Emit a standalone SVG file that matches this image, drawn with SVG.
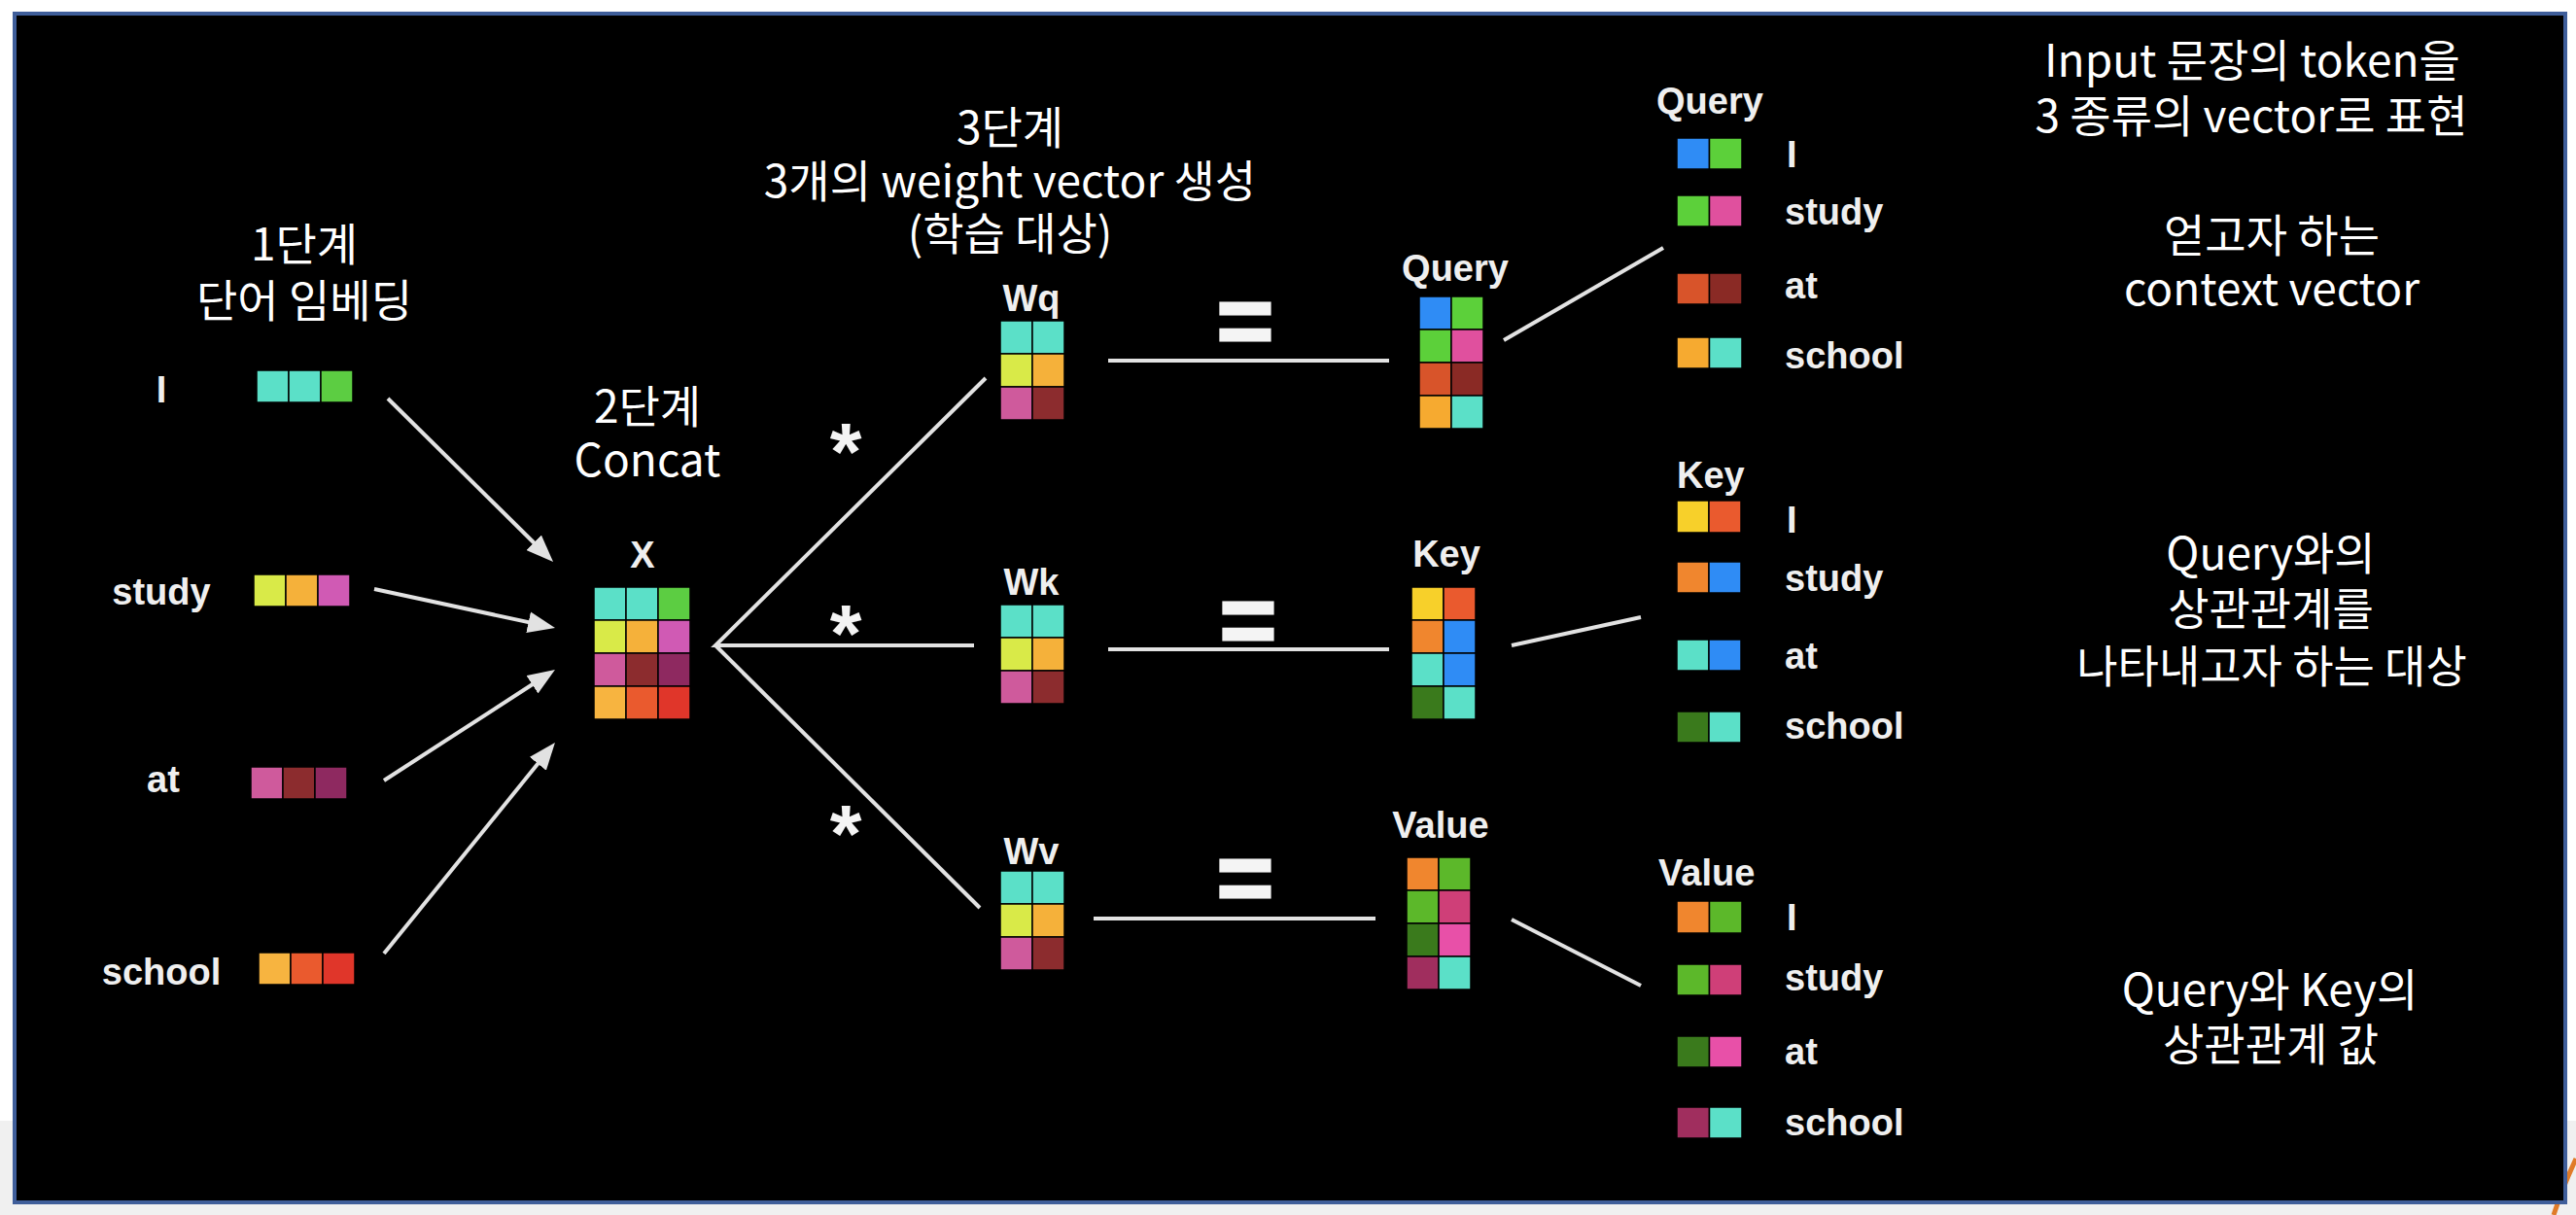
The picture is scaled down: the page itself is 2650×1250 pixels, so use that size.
<svg xmlns="http://www.w3.org/2000/svg" width="2650" height="1250" viewBox="0 0 2650 1250">
<defs>
<style>
.lbl{font-family:"Liberation Sans",Arial,sans-serif;font-weight:bold;font-size:38px;fill:#efefef}
.mid{text-anchor:middle}
.ko{font-family:"Noto Sans CJK KR","Noto Sans",sans-serif;font-size:46px;fill:#ffffff;text-anchor:middle}
.op{font-family:"Liberation Sans",Arial,sans-serif;font-weight:bold;fill:#f4f4f4;text-anchor:middle}
.eq{stroke:#f4f4f4;stroke-width:3}
.ln{stroke:#e2e2e2;stroke-width:4;fill:none;stroke-linecap:butt}
.cell rect{stroke:#000;stroke-width:1.5}
.teal{fill:#5be0c8}.green{fill:#5ccd42}.ylg{fill:#d9ea48}.org{fill:#f5b13a}.pnk{fill:#d05ab4}
.mauve{fill:#cf5a9c}.dred{fill:#8c2c2e}.maroon{fill:#8e2960}.oy{fill:#f7b440}.ored{fill:#ea5a2e}.red{fill:#e0362a}
.blue{fill:#2f8cf5}.qgreen{fill:#5cd03a}.qpink{fill:#e0509e}.qored{fill:#d8542a}.qdred{fill:#8a2a25}.qorg{fill:#f6aa30}
.yel{fill:#f7d02a}.korg{fill:#f0862e}.dgreen{fill:#3a7a1c}.vgreen{fill:#5cb82a}.mag{fill:#cf3f78}.vpink{fill:#e850a8}.vmaroon{fill:#a02e5e}
</style>
<marker id="ah" markerUnits="userSpaceOnUse" markerWidth="28" markerHeight="22" refX="6" refY="11" orient="auto">
<path d="M0,0 L28,11 L0,22 Z" fill="#e2e2e2"/>
</marker>
</defs>

<!-- page background -->
<rect x="0" y="0" width="2650" height="1250" fill="#ffffff"/>
<rect x="0" y="1153" width="2650" height="97" fill="#f0f0f0"/>
<path d="M2650,1192 Q2636,1222 2627,1250" stroke="#e07b28" stroke-width="5" fill="none"/>
<rect x="15" y="14" width="2624" height="1223" fill="#000000" stroke="#3f5e9a" stroke-width="4"/>

<!-- step titles -->
<g id="step1-title">
<text class="ko" x="313" y="268">1단계<tspan x="313" dy="58">단어 임베딩</tspan></text>
</g>
<g id="step2-title">
<text class="ko" x="666" y="435">2단계<tspan x="666" dy="55">Concat</tspan></text>
</g>
<g id="step3-title">
<text class="ko" x="1039" y="148">3단계<tspan x="1039" dy="55">3개의 weight vector 생성</tspan><tspan x="1039" dy="54">(학습 대상)</tspan></text>
</g>

<!-- input word embeddings -->
<g id="emb-I" class="cell">
<text class="lbl mid" x="166" y="414">I</text>
<rect class="teal" x="264" y="381" width="33" height="33"/><rect class="teal" x="297" y="381" width="33" height="33"/><rect class="green" x="330" y="381" width="33" height="33"/>
</g>
<g id="emb-study" class="cell">
<text class="lbl mid" x="166" y="622">study</text>
<rect class="ylg" x="261" y="591" width="33" height="33"/><rect class="org" x="294" y="591" width="33" height="33"/><rect class="pnk" x="327" y="591" width="33" height="33"/>
</g>
<g id="emb-at" class="cell">
<text class="lbl mid" x="168" y="815">at</text>
<rect class="mauve" x="258" y="789" width="33" height="33"/><rect class="dred" x="291" y="789" width="33" height="33"/><rect class="maroon" x="324" y="789" width="33" height="33"/>
</g>
<g id="emb-school" class="cell">
<text class="lbl mid" x="166" y="1013">school</text>
<rect class="oy" x="266" y="980" width="33" height="33"/><rect class="ored" x="299" y="980" width="33" height="33"/><rect class="red" x="332" y="980" width="33" height="33"/>
</g>

<!-- X matrix -->
<g id="X" class="cell">
<text class="lbl mid" x="661" y="584">X</text>
<rect class="teal" x="611" y="604" width="33" height="34"/><rect class="teal" x="644" y="604" width="33" height="34"/><rect class="green" x="677" y="604" width="33" height="34"/>
<rect class="ylg" x="611" y="638" width="33" height="34"/><rect class="org" x="644" y="638" width="33" height="34"/><rect class="pnk" x="677" y="638" width="33" height="34"/>
<rect class="mauve" x="611" y="672" width="33" height="34"/><rect class="dred" x="644" y="672" width="33" height="34"/><rect class="maroon" x="677" y="672" width="33" height="34"/>
<rect class="oy" x="611" y="706" width="33" height="34"/><rect class="ored" x="644" y="706" width="33" height="34"/><rect class="red" x="677" y="706" width="33" height="34"/>
</g>

<!-- weight matrices -->
<g id="Wq" class="cell">
<text class="lbl mid" x="1061" y="320">Wq</text>
<rect class="teal" x="1029" y="330" width="33" height="34"/><rect class="teal" x="1062" y="330" width="33" height="34"/>
<rect class="ylg" x="1029" y="364" width="33" height="34"/><rect class="org" x="1062" y="364" width="33" height="34"/>
<rect class="mauve" x="1029" y="398" width="33" height="34"/><rect class="dred" x="1062" y="398" width="33" height="34"/>
</g>
<g id="Wk" class="cell">
<text class="lbl mid" x="1061" y="612">Wk</text>
<rect class="teal" x="1029" y="622" width="33" height="34"/><rect class="teal" x="1062" y="622" width="33" height="34"/>
<rect class="ylg" x="1029" y="656" width="33" height="34"/><rect class="org" x="1062" y="656" width="33" height="34"/>
<rect class="mauve" x="1029" y="690" width="33" height="34"/><rect class="dred" x="1062" y="690" width="33" height="34"/>
</g>
<g id="Wv" class="cell">
<text class="lbl mid" x="1061" y="889">Wv</text>
<rect class="teal" x="1029" y="896" width="33" height="34"/><rect class="teal" x="1062" y="896" width="33" height="34"/>
<rect class="ylg" x="1029" y="930" width="33" height="34"/><rect class="org" x="1062" y="930" width="33" height="34"/>
<rect class="mauve" x="1029" y="964" width="33" height="34"/><rect class="dred" x="1062" y="964" width="33" height="34"/>
</g>

<!-- operators -->
<g id="operators">
<text class="op" x="870" y="494" font-size="84">*</text>
<text class="op" x="870" y="681" font-size="84">*</text>
<text class="op" x="870" y="887" font-size="84">*</text>
<text class="op eq" x="1281" y="364" font-size="100">=</text>
<text class="op eq" x="1284" y="672" font-size="100">=</text>
<text class="op eq" x="1281" y="937" font-size="100">=</text>
</g>

<!-- Q K V matrices -->
<g id="Query" class="cell">
<text class="lbl mid" x="1497" y="289">Query</text>
<rect class="blue" x="1460" y="305" width="33" height="34"/><rect class="qgreen" x="1493" y="305" width="33" height="34"/>
<rect class="qgreen" x="1460" y="339" width="33" height="34"/><rect class="qpink" x="1493" y="339" width="33" height="34"/>
<rect class="qored" x="1460" y="373" width="33" height="34"/><rect class="qdred" x="1493" y="373" width="33" height="34"/>
<rect class="qorg" x="1460" y="407" width="33" height="34"/><rect class="teal" x="1493" y="407" width="33" height="34"/>
</g>
<g id="Key" class="cell">
<text class="lbl mid" x="1488" y="583">Key</text>
<rect class="yel" x="1452" y="604" width="33" height="34"/><rect class="ored" x="1485" y="604" width="33" height="34"/>
<rect class="korg" x="1452" y="638" width="33" height="34"/><rect class="blue" x="1485" y="638" width="33" height="34"/>
<rect class="teal" x="1452" y="672" width="33" height="34"/><rect class="blue" x="1485" y="672" width="33" height="34"/>
<rect class="dgreen" x="1452" y="706" width="33" height="34"/><rect class="teal" x="1485" y="706" width="33" height="34"/>
</g>
<g id="Value" class="cell">
<text class="lbl mid" x="1482" y="862">Value</text>
<rect class="korg" x="1447" y="882" width="33" height="34"/><rect class="vgreen" x="1480" y="882" width="33" height="34"/>
<rect class="vgreen" x="1447" y="916" width="33" height="34"/><rect class="mag" x="1480" y="916" width="33" height="34"/>
<rect class="dgreen" x="1447" y="950" width="33" height="34"/><rect class="vpink" x="1480" y="950" width="33" height="34"/>
<rect class="vmaroon" x="1447" y="984" width="33" height="34"/><rect class="teal" x="1480" y="984" width="33" height="34"/>
</g>

<!-- per-token vectors -->
<g id="Query-tokens" class="cell">
<text class="lbl" x="1704" y="117">Query</text>
<rect class="blue" x="1725" y="142" width="33.5" height="32"/><rect class="qgreen" x="1758.5" y="142" width="33.5" height="32"/>
<text class="lbl" x="1838" y="172">I</text>
<rect class="qgreen" x="1725" y="201" width="33.5" height="32"/><rect class="qpink" x="1758.5" y="201" width="33.5" height="32"/>
<text class="lbl" x="1836" y="231">study</text>
<rect class="qored" x="1725" y="281" width="33.5" height="32"/><rect class="qdred" x="1758.5" y="281" width="33.5" height="32"/>
<text class="lbl" x="1836" y="307">at</text>
<rect class="qorg" x="1725" y="347" width="33.5" height="32"/><rect class="teal" x="1758.5" y="347" width="33.5" height="32"/>
<text class="lbl" x="1836" y="379">school</text>
</g>
<g id="Key-tokens" class="cell">
<text class="lbl" x="1725" y="502">Key</text>
<rect class="yel" x="1725" y="515" width="33" height="33"/><rect class="ored" x="1758" y="515" width="33" height="33"/>
<text class="lbl" x="1838" y="548">I</text>
<rect class="korg" x="1725" y="578" width="33" height="32"/><rect class="blue" x="1758" y="578" width="33" height="32"/>
<text class="lbl" x="1836" y="608">study</text>
<rect class="teal" x="1725" y="658" width="33" height="32"/><rect class="blue" x="1758" y="658" width="33" height="32"/>
<text class="lbl" x="1836" y="688">at</text>
<rect class="dgreen" x="1725" y="732" width="33" height="32"/><rect class="teal" x="1758" y="732" width="33" height="32"/>
<text class="lbl" x="1836" y="760">school</text>
</g>
<g id="Value-tokens" class="cell">
<text class="lbl" x="1706" y="911">Value</text>
<rect class="korg" x="1725" y="927" width="33.5" height="33"/><rect class="vgreen" x="1758.5" y="927" width="33.5" height="33"/>
<text class="lbl" x="1838" y="957">I</text>
<rect class="vgreen" x="1725" y="992" width="33.5" height="32"/><rect class="mag" x="1758.5" y="992" width="33.5" height="32"/>
<text class="lbl" x="1836" y="1019">study</text>
<rect class="dgreen" x="1725" y="1066" width="33.5" height="32"/><rect class="vpink" x="1758.5" y="1066" width="33.5" height="32"/>
<text class="lbl" x="1836" y="1095">at</text>
<rect class="vmaroon" x="1725" y="1139" width="33.5" height="32"/><rect class="teal" x="1758.5" y="1139" width="33.5" height="32"/>
<text class="lbl" x="1836" y="1168">school</text>
</g>

<!-- explanations -->
<g id="note-input">
<text class="ko" x="2317" y="79">Input 문장의 token을<tspan x="2316" dy="57">3 종류의 vector로 표현</tspan></text>
</g>
<g id="note-query">
<text class="ko" x="2337" y="259">얻고자 하는<tspan x="2337" dy="55">context vector</tspan></text>
</g>
<g id="note-key">
<text class="ko" x="2336" y="586">Query와의<tspan x="2336" dy="57">상관관계를</tspan><tspan x="2337" dy="59">나타내고자 하는 대상</tspan></text>
</g>
<g id="note-value">
<text class="ko" x="2335" y="1035">Query와 Key의<tspan x="2336" dy="56">상관관계 값</tspan></text>
</g>

<!-- connectors -->
<g id="connectors" class="ln">
<line x1="399" y1="410" x2="553.4" y2="562.5" marker-end="url(#ah)"/>
<line x1="385" y1="606" x2="549.5" y2="641.4" marker-end="url(#ah)"/>
<line x1="395" y1="803" x2="552.5" y2="701" marker-end="url(#ah)"/>
<line x1="395" y1="981" x2="557.1" y2="781.1" marker-end="url(#ah)"/>
<polyline points="1014,389 736,664 1002,664"/>
<line x1="736" y1="664" x2="1008" y2="934"/>
<line x1="1140" y1="371" x2="1429" y2="371"/>
<line x1="1140" y1="668" x2="1429" y2="668"/>
<line x1="1125" y1="945" x2="1415" y2="945"/>
<line x1="1547" y1="350" x2="1711" y2="255"/>
<line x1="1555" y1="664" x2="1688" y2="635"/>
<line x1="1555" y1="946" x2="1688" y2="1014"/>
</g>
</svg>
